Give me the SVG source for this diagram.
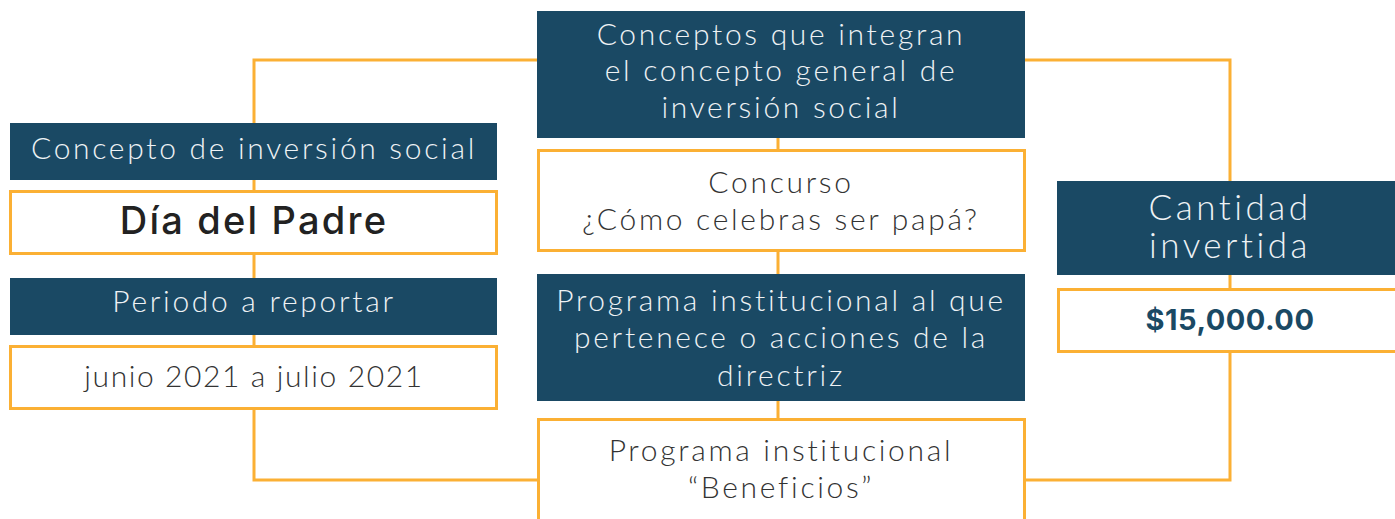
<svg xmlns="http://www.w3.org/2000/svg" width="1395" height="519" viewBox="0 0 1395 519">
<style>
.dark{fill:#1a4964}
.light{fill:#ffffff;stroke:#fbb034;stroke-width:3}
.conn{fill:none;stroke:#fbb034;stroke-width:3}
.t{font-family:"Lato","Liberation Sans",sans-serif;font-weight:300;text-anchor:middle;letter-spacing:2.7px}
.w{fill:#eef2f5;font-size:30px}
.g{fill:#333333;font-size:30px}
.big{font-size:35px;letter-spacing:3.5px}
.tight{letter-spacing:1.6px}
.b{font-family:"Inter","Liberation Sans",sans-serif;text-anchor:middle}
</style>
<rect width="1395" height="519" fill="#ffffff"/>
<g id="connectors">
<path class="conn" d="M537,60 H254 V480 H537"/>
<path class="conn" d="M778,137 V419"/>
<path class="conn" d="M1025,60 H1230 V480 H1025"/>
</g>
<g id="n-concepto">
<rect class="dark" x="10" y="123" width="487" height="57"/>
<text class="t w" x="254" y="159">Concepto de inversión social</text>
</g>
<g id="n-dia">
<rect class="light" x="10.5" y="191.5" width="486" height="62"/>
<text class="b" x="254" y="234" font-size="38" font-weight="500" fill="#222222" letter-spacing="2.2">Día del Padre</text>
</g>
<g id="n-periodo">
<rect class="dark" x="10" y="278" width="487" height="57"/>
<text class="t w" x="254" y="312">Periodo a reportar</text>
</g>
<g id="n-junio">
<rect class="light" x="10.5" y="346.5" width="486" height="62"/>
<text class="t g tight" x="254" y="387">junio 2021 a julio 2021</text>
</g>
<g id="n-conceptos">
<rect class="dark" x="537" y="11" width="488" height="127"/>
<text class="t w" x="781" y="45">Conceptos que integran</text>
<text class="t w" x="781" y="81">el concepto general de</text>
<text class="t w" x="781" y="118">inversión social</text>
</g>
<g id="n-concurso">
<rect class="light" x="538.5" y="150.5" width="486" height="100"/>
<text class="t g" x="781" y="193">Concurso</text>
<text class="t g" x="781" y="230">¿Cómo celebras ser papá?</text>
</g>
<g id="n-programa">
<rect class="dark" x="537" y="274" width="488" height="127"/>
<text class="t w" x="781" y="311">Programa institucional al que</text>
<text class="t w" x="781" y="348">pertenece o acciones de la</text>
<text class="t w" x="781" y="386">directriz</text>
</g>
<g id="n-beneficios">
<rect class="light" x="538.5" y="419.5" width="486" height="110"/>
<text class="t g" x="781" y="461">Programa institucional</text>
<text class="t g" x="781" y="498">“Beneficios”</text>
</g>
<g id="n-cantidad">
<rect class="dark" x="1057" y="181" width="345" height="94"/>
<text class="t w big" x="1230" y="220">Cantidad</text>
<text class="t w big" x="1230" y="258">invertida</text>
</g>
<g id="n-monto">
<rect class="light" x="1058.5" y="289.5" width="345" height="62"/>
<text class="b" x="1230" y="330" font-size="29" font-weight="700" fill="#1a4964" letter-spacing="0.5">$15,000.00</text>
</g>
</svg>
